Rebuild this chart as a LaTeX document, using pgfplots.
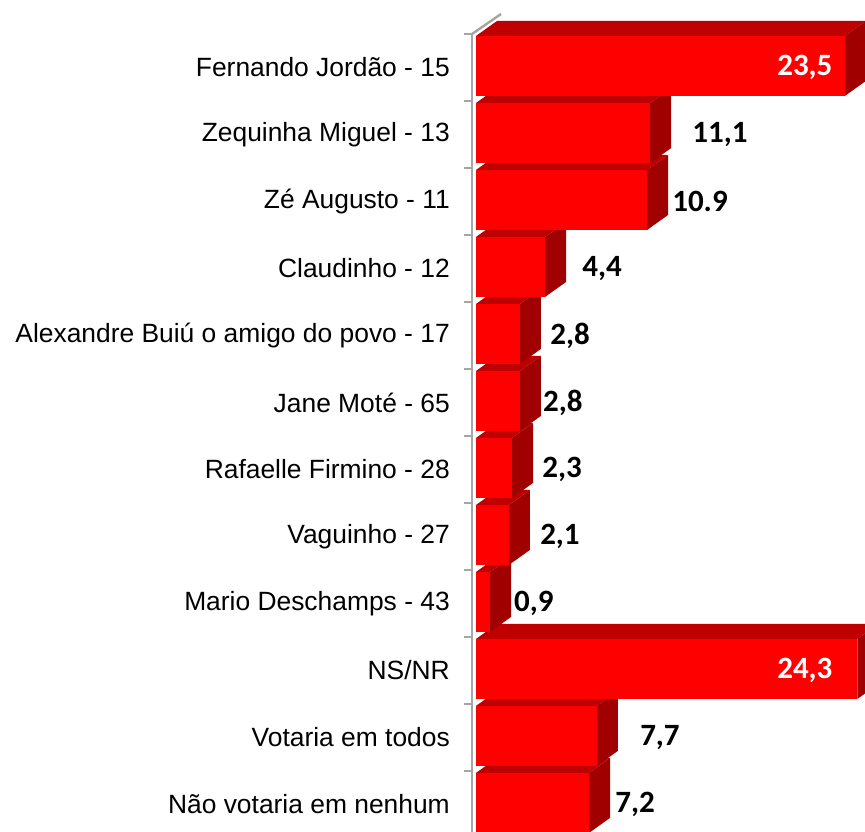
\documentclass[border=0pt]{standalone}
\usepackage{pgfplots}
\usepackage{pgfplotstable}
\pgfplotsset{compat=1.18}
\usepackage{fontspec}
\setmainfont{Liberation Sans}
\newfontfamily\labfont{Liberation Sans}
\newfontfamily\valfont{Carlito}
\definecolor{frontc}{RGB}{255,0,0}
\definecolor{topc}{RGB}{190,0,0}
\definecolor{sidec}{RGB}{160,0,0}
\definecolor{wallc}{RGB}{165,165,165}

% idx value
\pgfplotstableread{
idx val
0 23.5
1 11.1
2 10.9
3 4.4
4 2.8
5 2.8
6 2.3
7 2.1
8 0.9
9 24.3
10 7.7
11 7.2
}\data

% value labels: position (in value units), text, white (1) or black (0)
\pgfplotstableread{
idx lx lab w
0 20.95 23,5 1
1 15.54 11,1 0
2 14.27 10.9 0
3 8.03 4,4 0
4 5.99 2,8 0
5 5.54 2,8 0
6 5.48 2,3 0
7 5.35 2,1 0
8 3.69 0,9 0
9 20.95 24,3 1
10 11.72 7,7 0
11 10.13 7,2 0
}\labels

\begin{document}
\begin{tikzpicture}
\begin{axis}[
  x=7.85pt, y=33.5pt, y dir=reverse,
  xmin=-0.25, xmax=24.78, ymin=-0.5, ymax=11.5,
  clip=false,
  axis x line=none,
  axis y line=left,
  y axis line style={draw=wallc, line width=1.2pt, -},
  ytick={0,...,11},
  yticklabels={Fernando Jordão - 15, Zequinha Miguel - 13, Zé Augusto - 11, Claudinho - 12, Alexandre Buiú o amigo do povo - 17, Jane Moté - 65, Rafaelle Firmino - 28, Vaguinho - 27, Mario Deschamps - 43, NS/NR, Votaria em todos, Não votaria em nenhum},
  major tick length=0pt,
  minor ytick={-0.5,0.5,...,11.5},
  minor tick length=4pt,
  tick align=outside,
  minor tick style={draw=wallc, line width=0.8pt},
  yticklabel style={font=\labfont\fontsize{13.2}{15}\selectfont, anchor=east, xshift=-7.6pt},
]
\pgfmathsetmacro\ddx{1.338}
\pgfmathsetmacro\ddy{0.224}
\pgfplotsinvokeforeach{11,10,...,0}{
  \pgfplotstablegetelem{#1}{val}\of\data
  \pgfmathsetmacro\bv{\pgfplotsretval}
  \pgfmathsetmacro\bvd{\bv+\ddx}
  \pgfmathsetmacro\byt{#1-0.47}
  \pgfmathsetmacro\byb{#1+0.425}
  \pgfmathsetmacro\bytd{\byt-\ddy}
  \pgfmathsetmacro\bybd{\byb-\ddy}
  \edef\tmp{%
    \noexpand\addplot[fill=topc, draw=none] coordinates {(0,\byt) (\bv,\byt) (\bvd,\bytd) (\ddx,\bytd)} --cycle;
    \noexpand\addplot[fill=sidec, draw=none] coordinates {(\bv,\byt) (\bvd,\bytd) (\bvd,\bybd) (\bv,\byb)} --cycle;
    \noexpand\addplot[fill=frontc, draw=none] coordinates {(0,\byt) (\bv,\byt) (\bv,\byb) (0,\byb)} --cycle;
  }
  \tmp
}
\addplot[only marks, mark=none, nodes near coords, point meta=explicit symbolic,
  every node near coord/.append style={anchor=center, text=white, font=\valfont\bfseries\fontsize{15.5}{17}\selectfont},
  x filter/.expression={\thisrow{w}==1 ? x : nan}]
  table[x=lx, y=idx, meta=lab] {\labels};
\addplot[only marks, mark=none, nodes near coords, point meta=explicit symbolic,
  every node near coord/.append style={anchor=center, text=black, font=\valfont\bfseries\fontsize{15.5}{17}\selectfont},
  x filter/.expression={\thisrow{w}==0 ? x : nan}]
  table[x=lx, y=idx, meta=lab] {\labels};
\draw[wallc, line width=1.2pt] (axis cs:-0.25,-0.5) -- ++(14.5pt,10pt);
\coordinate (BL) at (axis cs:-30.32,11.41);
\coordinate (TR) at (axis cs:24.78,-1.007);
\end{axis}
\pgfresetboundingbox
\useasboundingbox (BL) rectangle (TR);
\end{tikzpicture}
\end{document}
